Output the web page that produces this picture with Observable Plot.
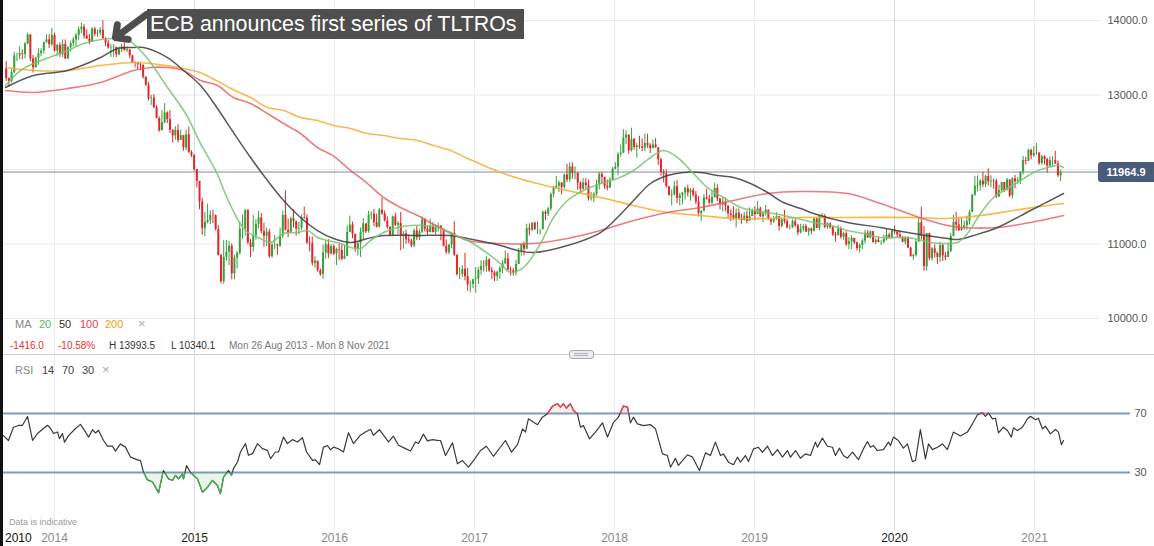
<!DOCTYPE html>
<html><head><meta charset="utf-8">
<script src="https://cdn.jsdelivr.net/npm/d3@7"></script>
<script src="https://cdn.jsdelivr.net/npm/@observablehq/plot@0.6"></script>
<style>
body{margin:0;background:#fff;}
#wrap{position:relative;width:1154px;height:546px;overflow:hidden;background:#fff;font-family:"Liberation Sans",Arial,sans-serif;}
.abs{position:absolute;white-space:nowrap;}
</style></head><body><div id="wrap"></div>
<script>
// ---- weekly EUR/USD (x10000) candles: [close, high, low], weeks starting Mon 26 Aug 2013 ----
const firstOpen = 13350;
const w2013 = [[13220,13450,13180],[13180,13230,13105],[13300,13345,13160],[13525,13570,13285],[13525,13560,13450],[13555,13645,13470],[13545,13605,13470],[13685,13705,13485],[13805,13830,13675],[13485,13810,13445],[13365,13530,13295],[13495,13510,13360],[13555,13620,13400],[13590,13620,13515],[13705,13710,13545],[13740,13810,13690],[13675,13810,13625],[13800,13895,13650],[13590,13830,13575]];
const w2014 = [[13665,13685,13520],[13540,13700,13505],[13680,13740,13505],[13485,13740,13475],[13635,13650,13475],[13690,13720,13575],[13740,13775,13645],[13800,13825,13640],[13875,13915,13735],[13910,13965,13820],[13790,13945,13750],[13750,13875,13750],[13705,13810,13675],[13885,13905,13710],[13815,13905,13785],[13830,13875,13770],[13870,13905,13795],[13755,13995,13750],[13695,13770,13650],[13630,13735,13615],[13635,13675,13505],[13640,13675,13505],[13540,13605,13500],[13610,13645,13525],[13645,13680,13570],[13595,13700,13590],[13605,13645,13570],[13525,13610,13490],[13430,13535,13420],[13425,13445,13365],[13410,13440,13335],[13400,13435,13325],[13240,13395,13215],[13130,13240,13115],[12950,13170,12920],[12960,12995,12860],[12830,13005,12815],[12685,12860,12680],[12520,12705,12500],[12630,12790,12555],[12760,12885,12615],[12670,12775,12615],[12525,12790,12485],[12450,12535,12355],[12525,12575,12395],[12390,12600,12355],[12455,12530,12425],[12290,12455,12245],[12465,12530,12250],[12225,12570,12220],[12185,12250,12160],[12000,12200,11975]];
const w2015 = [[11840,11975,11755],[11565,11815,11460],[11205,11615,11115],[11290,11425,11100],[11315,11535,11270],[11385,11445,11260],[11380,11450,11275],[11195,11390,11175],[10845,11245,10840],[10495,10860,10460],[10820,11045,10460],[10890,11050,10765],[10970,11035,10710],[10600,11000,10520],[10810,10850,10520],[10875,10900,10665],[11200,11290,10850],[11200,11390,11060],[11450,11465,11100],[11015,11460,10990],[10955,11060,10820],[11110,11385,10890],[11265,11325,11050],[11350,11440,11200],[11165,11410,11135],[11105,11280,10955],[11160,11215,10965],[10830,11195,10805],[10985,11000,10810],[10985,11115,10925],[10970,11000,10850],[11105,11215,10955],[11385,11440,11075],[11185,11715,11175],[11150,11335,11085],[11340,11360,11150],[11300,11460,11215],[11200,11305,11105],[11210,11290,11125],[11355,11390,11180],[11350,11495,11330],[11015,11390,10995],[11005,11095,10895],[10740,11095,10705],[10770,10830,10675],[10645,10770,10620],[10590,10665,10565],[10880,10985,10525],[10990,11045,10795],[10865,11060,10805],[10965,10990,10850],[10865,10990,10845]];
const w2016 = [[10925,10945,10710],[10915,10995,10780],[10795,10985,10775],[10830,10985,10810],[11155,11245,10835],[11255,11375,11160],[11130,11295,11070],[10935,11080,10890],[11005,11020,10840],[11155,11215,10820],[11270,11340,11055],[11165,11270,11140],[11390,11440,11145],[11400,11435,11325],[11285,11465,11235],[11225,11400,11215],[11455,11475,11215],[11405,11615,11385],[11310,11445,11295],[11220,11365,11200],[11115,11235,11100],[11365,11375,11095],[11250,11415,11235],[11275,11300,11130],[11115,11425,10910],[11135,11165,10930],[11055,11185,10995],[11040,11120,11000],[10975,11065,10950],[11175,11200,10950],[11085,11235,11045],[11160,11190,11045],[11325,11365,11140],[11200,11340,11160],[11155,11240,11120],[11235,11330,11150],[11155,11285,11145],[11225,11255,11120],[11240,11280,11160],[11200,11245,11045],[10970,11195,10960],[10885,11055,10860],[10985,10995,10855],[11140,11145,10940],[10850,11300,10830],[10590,10820,10570],[10590,10685,10520],[10660,10710,10550],[10560,10875,10505],[10450,10670,10365],[10455,10500,10350],[10520,10525,10400]];
const w2017 = [[10530,10685,10340],[10645,10685,10455],[10700,10775,10580],[10695,10775,10625],[10785,10830,10620],[10640,10805,10620],[10615,10685,10520],[10560,10635,10495],[10620,10635,10495],[10670,10700,10525],[10735,10780,10600],[10800,10905,10725],[10650,10875,10645],[10640,10690,10570],[10615,10670,10570],[10725,10780,10570],[10895,10940,10820],[10995,11000,10840],[10930,11025,10840],[11205,11265,10925],[11185,11270,11110],[11280,11285,11165],[11195,11295,11180],[11195,11295,11130],[11195,11195,11120],[11425,11445,11185],[11400,11445,11315],[11470,11490,11370],[11665,11680,11440],[11750,11775,11620],[11775,11910,11730],[11820,11845,11690],[11760,11810,11660],[11925,11940,11735],[11860,12070,11825],[12035,12090,11825],[11945,12090,11870],[11950,12035,11860],[11815,11955,11720],[11735,11835,11670],[11820,11880,11710],[11785,11880,11730],[11605,11860,11575],[11610,11690,11575],[11665,11690,11555],[11795,11860,11640],[11935,11960,11725],[11895,11960,11810],[11770,11865,11730],[11750,11860,11715],[11860,11890,11750],[12005,12025,11855]];
const w2018 = [[12030,12090,11995],[12200,12225,11915],[12220,12325,12165],[12425,12535,12210],[12460,12520,12335],[12250,12465,12205],[12405,12555,12235],[12295,12415,12260],[12315,12350,12155],[12305,12445,12270],[12285,12410,12240],[12350,12475,12240],[12320,12475,12285],[12280,12345,12215],[12330,12395,12300],[12290,12415,12285],[12130,12295,12055],[11960,12150,11910],[11940,11995,11820],[11770,11995,11750],[11650,11770,11645],[11660,11725,11510],[11770,11840,11645],[11610,11850,11540],[11650,11680,11510],[11685,11690,11525],[11745,11765,11590],[11685,11790,11630],[11720,11745,11575],[11655,11750,11625],[11565,11705,11530],[11410,11640,11365],[11440,11445,11300],[11620,11665,11430],[11600,11735,11590],[11550,11655,11525],[11625,11720,11530],[11745,11815,11615],[11605,11795,11570],[11525,11610,11460],[11560,11620,11430],[11510,11620,11430],[11405,11500,11335],[11385,11455,11300],[11335,11500,11315],[11415,11470,11215],[11340,11470,11325],[11315,11400,11265],[11375,11420,11310],[11305,11440,11270],[11370,11485,11345],[11440,11470,11365],[11395,11500,11310]];
const w2019 = [[11470,11570,11395],[11365,11495,11355],[11405,11430,11290],[11455,11515,11375],[11325,11455,11320],[11295,11345,11250],[11335,11370,11275],[11365,11420,11315],[11235,11365,11175],[11325,11345,11215],[11300,11450,11270],[11215,11325,11205],[11215,11255,11185],[11300,11325,11210],[11245,11330,11225],[11150,11265,11110],[11200,11265,11135],[11235,11265,11160],[11160,11265,11155],[11205,11215,11105],[11170,11215,11125],[11335,11350,11160],[11210,11350,11205],[11370,11385,11180],[11370,11410,11345],[11225,11395,11205],[11270,11285,11195],[11220,11285,11200],[11125,11240,11100],[11110,11155,11025],[11200,11250,11110],[11090,11230,11065],[11140,11160,11050],[10990,11165,10965],[11030,11085,10925],[11075,11110,10925],[11015,11075,10990],[10940,11025,10905],[10980,11000,10880],[11040,11065,10925],[11145,11180,11000],[11080,11180,11075],[11165,11175,11070],[11020,11170,11010],[11050,11070,10990],[11020,11095,11015],[11020,11045,10980],[11060,11115,11000],[11120,11200,11040],[11080,11145,11065],[11175,11185,11070],[11160,11240,11130]];
const w2020 = [[11120,11170,11085],[11090,11175,11085],[11025,11100,11015],[11090,11095,10990],[10945,11095,10940],[10830,10955,10825],[10845,10865,10780],[11025,11055,10825],[11285,11355,11025],[11105,11495,11055],[10695,11235,10635],[11140,11145,10635],[10805,11145,10775],[10935,10955,10770],[10875,10990,10810],[10820,10890,10725],[10980,11020,10755],[10840,11000,10765],[10820,10885,10775],[10900,11010,10870],[11100,11145,10885],[11290,11385,11095],[11255,11425,11170],[11180,11355,11165],[11220,11350,11170],[11245,11305,11185],[11300,11375,11185],[11425,11450,11255],[11655,11665,11420],[11775,11910,11640],[11785,11915,11700],[11845,11865,11710],[11795,11965,11755],[11905,11925,11755],[11835,12010,11780],[11845,11915,11755],[11840,11870,11735],[11630,11870,11610],[11715,11790,11625],[11825,11830,11685],[11720,11830,11690],[11860,11880,11710],[11645,11860,11620],[11875,11890,11605],[11835,11920,11745],[11855,11895,11800],[11965,11965,11800],[12120,12175,11925],[12110,12165,12060],[12255,12275,12110],[12185,12275,12130],[12215,12310,12165]];
const w2021 = [[12220,12350,12190],[12080,12225,12055],[12170,12190,12055],[12135,12185,12060],[12045,12150,11950],[12120,12165,12020],[12120,12170,12025],[12075,12245,12065],[11915,12115,11895],[11964.9,11990,11835]];

// ---- moving averages: [decimal year, value] ----
const ma20 = [[2013.650,13128],[2013.757,13329],[2013.850,13423],[2014.093,13597],[2014.207,13691],[2014.329,13745],[2014.450,13758],[2014.521,13745],[2014.614,13597],[2014.686,13436],[2014.807,13101],[2014.936,12752],[2015.043,12349],[2015.150,11987],[2015.257,11517],[2015.364,11181],[2015.471,11074],[2015.543,11020],[2015.636,11141],[2015.736,11154],[2015.807,11181],[2015.878,11087],[2015.950,11047],[2016.043,11007],[2016.114,10953],[2016.186,10940],[2016.257,11047],[2016.350,11154],[2016.450,11221],[2016.543,11248],[2016.636,11248],[2016.736,11221],[2016.829,11141],[2016.950,11047],[2017.064,10913],[2017.186,10738],[2017.257,10617],[2017.350,10685],[2017.471,11007],[2017.564,11356],[2017.664,11584],[2017.778,11718],[2017.900,11812],[2018.021,11879],[2018.136,11987],[2018.257,12161],[2018.350,12255],[2018.450,12161],[2018.543,11987],[2018.664,11758],[2018.778,11624],[2018.900,11490],[2018.993,11450],[2019.093,11423],[2019.207,11383],[2019.307,11342],[2019.421,11289],[2019.543,11248],[2019.664,11181],[2019.778,11141],[2019.900,11087],[2020.021,11087],[2020.136,11074],[2020.257,11020],[2020.379,11007],[2020.450,11020],[2020.521,11141],[2020.614,11409],[2020.707,11624],[2020.807,11745],[2020.900,11852],[2020.993,11960],[2021.093,12027],[2021.164,12054],[2021.207,12027]];
const ma50 = [[2013.650,13101],[2013.850,13262],[2014.093,13329],[2014.329,13503],[2014.450,13624],[2014.564,13638],[2014.636,13638],[2014.807,13503],[2014.921,13329],[2015.043,13128],[2015.164,12819],[2015.278,12497],[2015.400,12161],[2015.521,11852],[2015.636,11584],[2015.757,11356],[2015.878,11181],[2015.993,11074],[2016.114,11020],[2016.236,11074],[2016.350,11114],[2016.593,11114],[2016.829,11114],[2016.950,11074],[2017.186,10980],[2017.307,10913],[2017.421,10886],[2017.664,10980],[2017.900,11154],[2018.021,11356],[2018.136,11584],[2018.257,11812],[2018.379,11919],[2018.493,11960],[2018.614,11960],[2018.736,11919],[2018.850,11893],[2018.971,11812],[2019.093,11691],[2019.207,11557],[2019.329,11477],[2019.421,11409],[2019.664,11289],[2019.900,11221],[2020.136,11141],[2020.379,11074],[2020.450,11060],[2020.564,11114],[2020.736,11221],[2020.971,11450],[2021.207,11678]];
const ma100 = [[2013.650,13060],[2013.850,13034],[2014.093,13087],[2014.329,13168],[2014.564,13329],[2014.686,13369],[2014.807,13369],[2014.921,13329],[2015.043,13195],[2015.164,13128],[2015.278,12966],[2015.400,12886],[2015.521,12752],[2015.636,12617],[2015.757,12483],[2015.878,12295],[2015.993,12180],[2016.114,11987],[2016.236,11812],[2016.350,11624],[2016.471,11490],[2016.593,11383],[2016.707,11262],[2016.829,11154],[2016.950,11047],[2017.186,11007],[2017.421,11007],[2017.664,11074],[2017.900,11181],[2018.136,11315],[2018.379,11423],[2018.614,11490],[2018.850,11584],[2019.093,11678],[2019.329,11705],[2019.664,11678],[2019.900,11544],[2020.136,11383],[2020.379,11248],[2020.493,11221],[2020.736,11221],[2020.971,11289],[2021.207,11383]];
const ma200 = [[2013.650,13369],[2013.850,13329],[2014.093,13329],[2014.329,13396],[2014.564,13436],[2014.686,13423],[2014.921,13356],[2015.043,13300],[2015.278,13070],[2015.400,12966],[2015.521,12832],[2015.636,12792],[2015.757,12698],[2015.878,12658],[2015.993,12591],[2016.114,12550],[2016.236,12483],[2016.350,12456],[2016.471,12416],[2016.593,12389],[2016.707,12322],[2016.829,12255],[2016.950,12148],[2017.186,11960],[2017.421,11825],[2017.664,11718],[2017.900,11624],[2018.136,11517],[2018.379,11423],[2018.614,11383],[2018.850,11342],[2019.093,11342],[2019.329,11356],[2019.664,11356],[2020.136,11356],[2020.379,11342],[2020.614,11383],[2020.850,11450],[2021.093,11517],[2021.207,11544]];

// ---- RSI(14): [decimal year, value] ----
const rsi = [[2013.635,55],[2013.671,51.7],[2013.707,60.7],[2013.743,61.9],[2013.771,62],[2013.807,68],[2013.843,51.7],[2013.878,56.4],[2013.921,59.8],[2013.950,62],[2013.971,60],[2013.993,56.4],[2014.021,57.5],[2014.035,53],[2014.057,56.4],[2014.071,50.6],[2014.100,55],[2014.150,59.8],[2014.185,62.6],[2014.221,57.5],[2014.243,54],[2014.271,59],[2014.293,56.8],[2014.314,58.6],[2014.350,51.7],[2014.378,47.9],[2014.414,47.9],[2014.435,44.5],[2014.471,49.4],[2014.507,47.2],[2014.543,40.4],[2014.593,38.6],[2014.614,38],[2014.635,30.2],[2014.664,25],[2014.700,23.6],[2014.743,16.2],[2014.778,31.4],[2014.814,25.7],[2014.843,24.6],[2014.864,28],[2014.885,25.7],[2014.914,29],[2014.921,25.7],[2014.943,34.7],[2014.971,30],[2015.021,25.7],[2015.057,16.6],[2015.093,20],[2015.128,24.6],[2015.164,21.2],[2015.185,15.5],[2015.207,26.8],[2015.243,31.4],[2015.264,28],[2015.278,32.6],[2015.307,37.1],[2015.328,43.9],[2015.364,49.6],[2015.385,41.7],[2015.414,42.8],[2015.450,49.6],[2015.485,46.2],[2015.521,45],[2015.543,39.4],[2015.578,43.9],[2015.600,43.9],[2015.635,54],[2015.664,49.6],[2015.700,52.3],[2015.735,50.7],[2015.771,53.6],[2015.800,43.9],[2015.843,38.2],[2015.864,38.6],[2015.893,35.4],[2015.921,47.2],[2015.950,48.3],[2015.971,45.4],[2015.993,47.2],[2016.028,46.1],[2016.064,43.9],[2016.100,57],[2016.135,49.6],[2016.185,55.3],[2016.221,57.5],[2016.257,59.3],[2016.278,55.3],[2016.321,59],[2016.350,55.3],[2016.385,50.7],[2016.421,54.6],[2016.457,48.5],[2016.507,46.2],[2016.543,44.6],[2016.578,50.7],[2016.600,49.6],[2016.635,56],[2016.664,51.4],[2016.700,52.3],[2016.735,51.8],[2016.757,51.7],[2016.793,41.5],[2016.843,50.1],[2016.878,35.9],[2016.914,38.1],[2016.957,33.6],[2016.993,38.1],[2017.043,44.9],[2017.085,47.8],[2017.135,41],[2017.221,51.7],[2017.264,43.8],[2017.307,48.9],[2017.343,59.6],[2017.364,57.4],[2017.385,66.4],[2017.414,64.6],[2017.450,62.4],[2017.485,67.5],[2017.521,69.8],[2017.557,75],[2017.593,76.6],[2017.614,74.3],[2017.635,76.6],[2017.657,73.6],[2017.685,76.6],[2017.707,72],[2017.735,69.8],[2017.757,60.7],[2017.778,61.8],[2017.821,52.8],[2017.864,57.4],[2017.914,63.7],[2017.950,54],[2017.993,64],[2018.028,67.5],[2018.064,75],[2018.093,74.3],[2018.114,63.7],[2018.135,67.5],[2018.164,63],[2018.207,61.8],[2018.257,62.4],[2018.293,59.6],[2018.343,42.6],[2018.378,41.5],[2018.400,33.6],[2018.435,39.7],[2018.457,34.8],[2018.521,42],[2018.557,40.4],[2018.607,31.4],[2018.650,43.3],[2018.685,41.5],[2018.721,50.6],[2018.757,41.5],[2018.778,42.6],[2018.814,37],[2018.850,35.2],[2018.878,40.4],[2018.900,37],[2018.935,41.5],[2018.957,37.4],[2018.993,46],[2019.028,47.1],[2019.057,43.7],[2019.093,47.8],[2019.128,41.5],[2019.164,45.5],[2019.200,40.4],[2019.235,44.9],[2019.257,40.4],[2019.293,44.9],[2019.328,39.7],[2019.364,42.6],[2019.400,41.5],[2019.435,50.6],[2019.450,47.1],[2019.485,53.3],[2019.521,47.8],[2019.557,47.1],[2019.578,41.5],[2019.607,46.5],[2019.635,41.5],[2019.664,39.7],[2019.700,43.8],[2019.743,38.8],[2019.778,46],[2019.807,51],[2019.828,47.1],[2019.850,48.3],[2019.878,44.9],[2019.921,45.5],[2019.957,50.6],[2019.971,48.3],[2019.993,54],[2020.028,51.7],[2020.064,46.5],[2020.093,49.4],[2020.128,37.4],[2020.150,38.1],[2020.185,59.1],[2020.221,39.2],[2020.243,49.4],[2020.271,45.5],[2020.307,47.1],[2020.343,49.4],[2020.378,45.5],[2020.421,57.4],[2020.471,54.8],[2020.521,57.4],[2020.557,63],[2020.593,69.1],[2020.628,70.6],[2020.650,68.1],[2020.671,70.4],[2020.700,66.4],[2020.721,66.8],[2020.743,56.9],[2020.778,60.7],[2020.807,58.5],[2020.835,54],[2020.850,60.2],[2020.878,58.5],[2020.914,60.7],[2020.950,66.4],[2020.971,68.1],[2021.007,65.8],[2021.028,66.8],[2021.057,59.6],[2021.078,61.4],[2021.114,56.2],[2021.150,59.1],[2021.171,57.4],[2021.193,48.8],[2021.207,51.7]];

// ---- axes / labels ----
const priceGrid = [10000, 11000, 12000, 13000, 14000];
const priceLabels = [10000, 11000, 13000, 14000]; // 12000 hidden behind the last-price tag
const rsiLevels = [30, 70];
const minorYears = [2014, 2016, 2017, 2018, 2019, 2021];
const majorYears = [2015, 2020];
const annotationText = "ECB announces first series of TLTROs";
const annotationArrow = [{t1: 2014.657, v1: 14081, t2: 2014.435, v2: 13772}];

// ---- build ----
const FONT = '"Liberation Sans", Arial, sans-serif';
const NARROW = '"Liberation Sans Narrow", "Liberation Sans", sans-serif';
const RED = "#e2262b", GREEN = "#37a23a";
const decYear = d => { const y = d.getUTCFullYear(); const a = Date.UTC(y,0,1), b = Date.UTC(y+1,0,1); return y + (d - a)/(b - a); };
const weeks = [...w2013, ...w2014, ...w2015, ...w2016, ...w2017, ...w2018, ...w2019, ...w2020, ...w2021];
const t0 = Date.UTC(2013, 7, 28);
const candles = weeks.map(([c, h, l], i) => {
  const o = i === 0 ? firstOpen : weeks[i - 1][0];
  return {t: decYear(new Date(t0 + i * 7 * 864e5)), o, c, hi: Math.max(h, o, c), lo: Math.min(l, o, c)};
});
const up = candles.filter(d => d.c >= d.o), down = candles.filter(d => d.c < d.o);
const lastPrice = weeks[weeks.length - 1][0];
const maLine = (data, stroke, w, op) => Plot.line(data, {x: d => d[0], y: d => d[1], stroke, strokeWidth: w, strokeOpacity: op, curve: "catmull-rom"});

const mainPlot = Plot.plot({
  width: 1154, height: 355, marginTop: 0, marginBottom: 0, marginLeft: 0, marginRight: 54,
  style: {fontFamily: FONT, fontSize: "11px", color: "#555", background: "transparent"},
  x: {domain: [2013.614, 2021.471], axis: null},
  y: {domain: [9503.4, 14268.5], axis: "right", ticks: priceLabels, tickFormat: d => d.toFixed(1), tickSize: 0, tickPadding: 7, label: null},
  marks: [
    Plot.ruleY(priceGrid, {stroke: "#ebebeb"}),
    Plot.ruleX(minorYears, {stroke: "#ebebeb"}),
    Plot.ruleX(majorYears, {stroke: "#d5dae1"}),
    Plot.ruleY([lastPrice], {stroke: "#a6b0bd", strokeWidth: 1.5}),
    Plot.ruleX(down, {x: "t", y1: "lo", y2: "hi", stroke: RED, strokeWidth: 1}),
    Plot.ruleX(up, {x: "t", y1: "lo", y2: "hi", stroke: GREEN, strokeWidth: 1}),
    Plot.ruleX(down, {x: "t", y1: "o", y2: "c", stroke: RED, strokeWidth: 2}),
    Plot.ruleX(up, {x: "t", y1: "o", y2: "c", stroke: GREEN, strokeWidth: 2}),
    maLine(ma200, "#f5ad2f", 1.6, 0.85),
    maLine(ma100, "#ec5a5a", 1.6, 0.8),
    maLine(ma50, "#3c3c3c", 1.5, 0.85),
    maLine(ma20, "#78c473", 1.6, 0.85),
    Plot.arrow(annotationArrow, {x1: "t1", y1: "v1", x2: "t2", y2: "v2", stroke: "#4d4d4d", strokeWidth: 7, headLength: 8, headAngle: 90, strokeLinejoin: "miter"})
  ]
});

const rsiPlot = Plot.plot({
  width: 1154, height: 190, marginTop: 0, marginBottom: 16, marginLeft: 0, marginRight: 24,
  style: {fontFamily: FONT, fontSize: "11px", color: "#555", background: "transparent"},
  x: {domain: [2013.614, 2021.686], axis: null},
  y: {domain: [-9.32, 108.64], axis: "right", ticks: rsiLevels, tickSize: 0, tickPadding: 4, label: null},
  marks: [
    Plot.ruleX(minorYears, {stroke: "#ebebeb"}),
    Plot.ruleX(majorYears, {stroke: "#d5dae1"}),
    Plot.ruleY(rsiLevels, {stroke: "#7d9cc0", strokeWidth: 2}),
    Plot.areaY(rsi, {x: d => d[0], y1: 70, y2: d => d[1], fill: "#f04848", fillOpacity: 0.1, ariaDescription: "ob"}),
    Plot.areaY(rsi, {x: d => d[0], y1: 30, y2: d => d[1], fill: "#4cae4c", fillOpacity: 0.12, ariaDescription: "os"}),
    Plot.line(rsi, {x: d => d[0], y: d => d[1], stroke: "#3a3a3a", strokeWidth: 1.2}),
    Plot.line(rsi, {x: d => d[0], y: d => d[1], stroke: "#f04848", strokeWidth: 1.3, ariaDescription: "ob"}),
    Plot.line(rsi, {x: d => d[0], y: d => d[1], stroke: "#4cae4c", strokeWidth: 1.3, ariaDescription: "os"}),
    Plot.text(minorYears, {x: d => d, text: d => String(d), frameAnchor: "bottom", lineAnchor: "middle", dy: 8, fill: "#8a8a8a", fontSize: 12, fontFamily: NARROW}),
    Plot.text(majorYears, {x: d => d, text: d => String(d), frameAnchor: "bottom", lineAnchor: "middle", dy: 8, fill: "#222", fontSize: 12, fontFamily: NARROW})
  ]
});

// clip the overbought / oversold overlays
(function () {
  const NS = "http://www.w3.org/2000/svg";
  const ys = rsiPlot.scale("y");
  const y70 = ys.apply(70), y30 = ys.apply(30);
  const defs = document.createElementNS(NS, "defs");
  const mk = (id, y0, y1) => {
    const cp = document.createElementNS(NS, "clipPath"); cp.setAttribute("id", id);
    const r = document.createElementNS(NS, "rect");
    r.setAttribute("x", 0); r.setAttribute("y", y0); r.setAttribute("width", 1154); r.setAttribute("height", y1 - y0);
    cp.appendChild(r); defs.appendChild(cp);
  };
  mk("clipOB", 0, y70); mk("clipOS", y30, 190);
  rsiPlot.insertBefore(defs, rsiPlot.firstChild);
  let ob = rsiPlot.querySelectorAll('[aria-description="ob"]');
  let os = rsiPlot.querySelectorAll('[aria-description="os"]');
  if (!ob.length) ob = rsiPlot.querySelectorAll('g[fill="#f04848"], g[stroke="#f04848"]');
  if (!os.length) os = rsiPlot.querySelectorAll('g[fill="#4cae4c"], g[stroke="#4cae4c"]');
  ob.forEach(g => g.setAttribute("clip-path", "url(#clipOB)"));
  os.forEach(g => g.setAttribute("clip-path", "url(#clipOS)"));
})();

const wrap = document.getElementById("wrap");
mainPlot.style.position = "absolute"; mainPlot.style.left = "0px"; mainPlot.style.top = "0px";
rsiPlot.style.position = "absolute"; rsiPlot.style.left = "0px"; rsiPlot.style.top = "356px";
wrap.appendChild(mainPlot);
wrap.appendChild(rsiPlot);

function addText(txt, left, top, css) {
  const s = document.createElement("div"); s.className = "abs"; s.textContent = txt;
  s.style.left = left + "px"; s.style.top = top + "px";
  Object.assign(s.style, css || {}); wrap.appendChild(s); return s;
}
// annotation box
addText(annotationText, 147, 9, {width: "374px", height: "30px", lineHeight: "30px", paddingLeft: "3px", background: "#4e4e4e", color: "#fff", fontSize: "21.4px", overflow: "hidden"});
// price label
addText(lastPrice.toFixed(1), 1098, 162, {width: "56px", height: "20px", lineHeight: "20px", textAlign: "center", background: "#4a5b7a", color: "#fff", fontSize: "11px", fontWeight: "bold", borderRadius: "3px 0 0 3px"});
// MA legend
const l1 = {fontSize: "11px", lineHeight: "13px"};
addText("MA", 15, 318, {...l1, color: "#888"});
addText("20", 39, 318, {...l1, color: "#5cb85c"});
addText("50", 59, 318, {...l1, color: "#333"});
addText("100", 80, 318, {...l1, color: "#e8414a"});
addText("200", 105, 318, {...l1, color: "#f0a30a"});
addText("\u00d7", 138, 317, {fontSize: "13px", lineHeight: "14px", color: "#aaa"});
const l2 = {fontSize: "10px", lineHeight: "12px"};
addText("-1416.0", 10, 340, {...l2, color: "#e8303a"});
addText("-10.58%", 58, 340, {...l2, color: "#e8303a"});
addText("H 13993.5", 109, 340, {...l2, color: "#333"});
addText("L 10340.1", 171, 340, {...l2, color: "#333"});
addText("Mon 26 Aug 2013 - Mon 8 Nov 2021", 229, 340, {...l2, color: "#777"});
// separator + handle
addText("", 0, 354, {width: "1154px", height: "1px", background: "#cdcdcd"});
addText("", 569, 350, {width: "23px", height: "7px", border: "1px solid #a9a9b2", borderRadius: "3px", background: "#ebebf0"});
addText("", 574, 353, {width: "14px", height: "1px", background: "#b0b0b8"});
addText("", 574, 355, {width: "14px", height: "1px", background: "#b0b0b8"});
// RSI legend
addText("RSI", 15, 364, {...l1, color: "#888"});
addText("14", 42, 364, {...l1, color: "#444"});
addText("70", 62, 364, {...l1, color: "#444"});
addText("30", 82, 364, {...l1, color: "#444"});
addText("\u00d7", 102, 363, {fontSize: "13px", lineHeight: "14px", color: "#aaa"});
// footer
addText("Data is indicative", 9, 517, {fontSize: "9px", lineHeight: "10px", color: "#9a9a9a"});
addText("2010", 5, 531, {fontSize: "12px", lineHeight: "14px", color: "#111", fontFamily: NARROW});
// left edge
addText("", 0, 0, {width: "3px", height: "546px", background: "#111"});
</script></body></html>
